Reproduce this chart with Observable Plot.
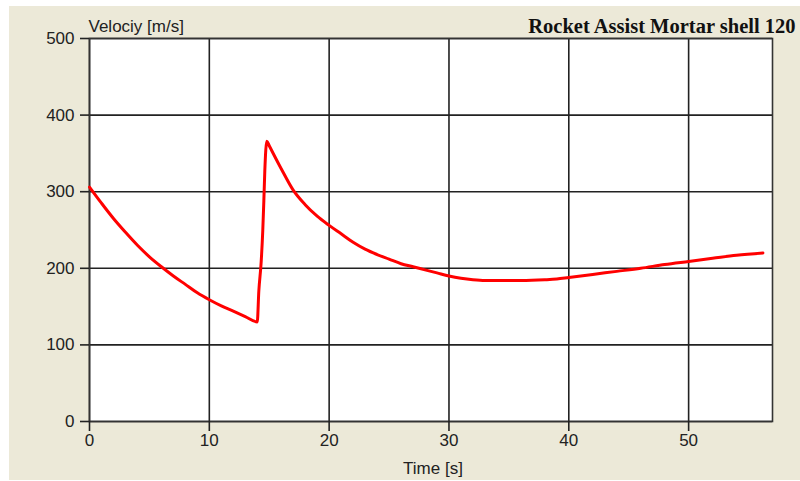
<!DOCTYPE html>
<html>
<head>
<meta charset="utf-8">
<script src="https://cdn.jsdelivr.net/npm/d3@7"></script>
<script src="https://cdn.jsdelivr.net/npm/@observablehq/plot@0.6"></script>
<style>
  html, body { margin: 0; padding: 0; background: #ffffff; }
  #wrap { position: relative; width: 800px; height: 481px; overflow: hidden; }
  #panel { position: absolute; left: 9px; top: 6px; right: 0; bottom: 1px; background: #ECE9D8; }
  #chart { position: absolute; left: 0; top: 0; }
</style>
</head>
<body>
<div id="wrap"><div id="panel"></div><div id="chart"></div></div>
<script>
const title = "Rocket Assist Mortar shell 120";
const yLabel = "Velociy [m/s]";
const xLabel = "Time [s]";
const xTicks = [0, 10, 20, 30, 40, 50];
const yTicks = [0, 100, 200, 300, 400, 500];

const time = [0, 1, 2, 3, 4, 5, 6, 7, 8, 9, 10, 11, 12, 13, 14, 14.13, 14.33, 14.46, 14.55, 14.63, 14.8, 15, 16, 17, 18, 19, 20, 21, 22, 23, 24, 25, 26, 27, 28, 29, 30, 31, 32, 33, 34, 36, 38, 39, 40, 42, 44, 46, 48, 50, 52, 54, 56.2];
const velocity = [306, 285, 265, 247, 230, 215, 202, 190, 179, 168, 159, 151, 144, 137, 130, 170, 209, 249, 288, 327, 366, 360, 330, 302, 283, 268, 256, 245, 234, 225, 218, 212, 206, 202, 198, 194, 190, 187, 185, 184, 184, 184, 185, 186, 188, 192, 196, 200, 205, 209, 213, 217, 220];

const data = time.map((t, i) => ({t, v: velocity[i]}));

const chart = Plot.plot({
  width: 800,
  height: 481,
  marginLeft: 89,
  marginRight: 28,
  marginTop: 38,
  marginBottom: 60,
  style: {background: "transparent", fontFamily: "'Liberation Sans', Arial, sans-serif", fontSize: "17px", color: "#222"},
  x: {domain: [0, 57]},
  y: {domain: [0, 500]},
  marks: [
    Plot.frame({fill: "white", stroke: null}),
    Plot.gridX(xTicks, {stroke: "#222", strokeOpacity: 1, strokeWidth: 1.6}),
    Plot.gridY(yTicks, {stroke: "#222", strokeOpacity: 1, strokeWidth: 1.6}),
    Plot.frame({stroke: "#333", strokeWidth: 1.6}),
    Plot.axisX(xTicks, {tickSize: 10, tickPadding: 2, label: null, stroke: "#222", strokeWidth: 1.6, fontSize: 17}),
    Plot.axisY(yTicks, {tickSize: 9, tickPadding: 6, label: null, stroke: "#222", strokeWidth: 1.6, fontSize: 17}),
    Plot.line(data, {x: "t", y: "v", stroke: "#ff0000", strokeWidth: 3, strokeLinejoin: "round", curve: "monotone-x"}),
    Plot.text([yLabel], {frameAnchor: "top-left", textAnchor: "start", lineAnchor: "bottom", dx: -1, dy: -7, fontSize: 17, fill: "#222"}),
    Plot.text([xLabel], {frameAnchor: "bottom", textAnchor: "middle", lineAnchor: "bottom", dx: 2, dy: 52, fontSize: 17, fill: "#222"}),
    Plot.text([title], {frameAnchor: "top-right", textAnchor: "end", lineAnchor: "bottom", dx: 23, dy: -6, fontSize: 20.5, fontWeight: "bold", fontFamily: "'Liberation Serif', 'Times New Roman', serif", fill: "#111"})
  ]
});
document.getElementById("chart").appendChild(chart);
</script>
</body>
</html>
